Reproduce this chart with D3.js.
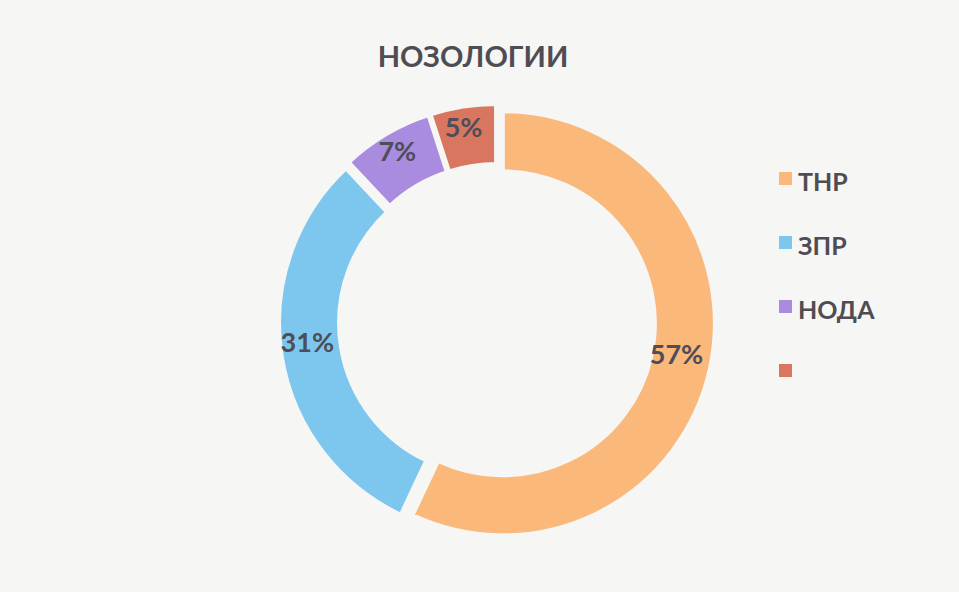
<!DOCTYPE html>
<html>
<head>
<meta charset="utf-8">
<script src="https://cdn.jsdelivr.net/npm/d3@7"></script>
<style>
    body { margin: 0; background: #f6f6f4; }
    svg { display: block; font-family: "Lato", "Open Sans", sans-serif; }
</style>
</head>
<body>
<svg id="chart"></svg>
<script>
const categories = ["ТНР", "ЗПР", "НОДА", ""];
const values = [57, 31, 7, 5];
const colors = ["#fab87b", "#7dc6ee", "#a98ce0", "#d9765f"];
const title = "НОЗОЛОГИИ";

const width = 959, height = 592;
const cx = 497, cy = 322;
const outerR = 212, innerR = 152;
const explode = 6;

const svg = d3.select("#chart")
    .attr("width", width)
    .attr("height", height);

svg.append("rect")
    .attr("width", width)
    .attr("height", height)
    .attr("fill", "#f6f6f4");

svg.append("text")
    .attr("x", 473)
    .attr("y", 67)
    .attr("text-anchor", "middle")
    .attr("font-weight", "bold")
    .attr("fill", "#4f4d53")
    .style("font-size", "29px")
    .text(title);

let data = categories.map((c, i) => ({ name: c, value: values[i], color: colors[i] }));

let pie = d3.pie()
    .sort(null)
    .value(d => d.value);

let arc = d3.arc()
    .innerRadius(innerR)
    .outerRadius(outerR);

let labelArc = d3.arc()
    .innerRadius(188)
    .outerRadius(188);

let container = svg.append("g")
    .attr("transform", `translate(${cx}, ${cy})`);

let arcs = pie(data);

// slightly exploded slices, like the Excel doughnut
container.selectAll("path")
    .data(arcs)
    .join("path")
    .attr("d", arc)
    .attr("fill", d => d.data.color)
    .attr("stroke", "#f6f6f4")
    .attr("stroke-width", 4)
    .attr("transform", d => {
        let a = (d.startAngle + d.endAngle) / 2;
        return `translate(${Math.sin(a) * explode}, ${-Math.cos(a) * explode})`;
    });

container.selectAll("text.pct")
    .data(arcs)
    .join("text")
    .attr("class", "pct")
    .attr("text-anchor", "middle")
    .attr("dominant-baseline", "central")
    .attr("font-weight", "bold")
    .attr("fill", "#4f4d57")
    .style("font-size", "27px")
    .attr("transform", d => {
        let [x, y] = labelArc.centroid(d);
        return `translate(${x - 4}, ${y - 10})`;
    })
    .text(d => d.data.value + "%");

let legend = svg.append("g")
    .attr("transform", "translate(779, 179)");

let items = legend.selectAll("g.item")
    .data(data)
    .join("g")
    .attr("class", "item")
    .attr("transform", (d, i) => `translate(0, ${i * 64})`);

items.append("rect")
    .attr("x", 0)
    .attr("y", -7)
    .attr("width", 13)
    .attr("height", 13)
    .attr("fill", d => d.color);

items.append("text")
    .attr("x", 19)
    .attr("y", 2)
    .attr("dominant-baseline", "central")
    .attr("font-weight", "bold")
    .attr("fill", "#4f4d53")
    .style("font-size", "25px")
    .text(d => d.name);
</script>
</body>
</html>
